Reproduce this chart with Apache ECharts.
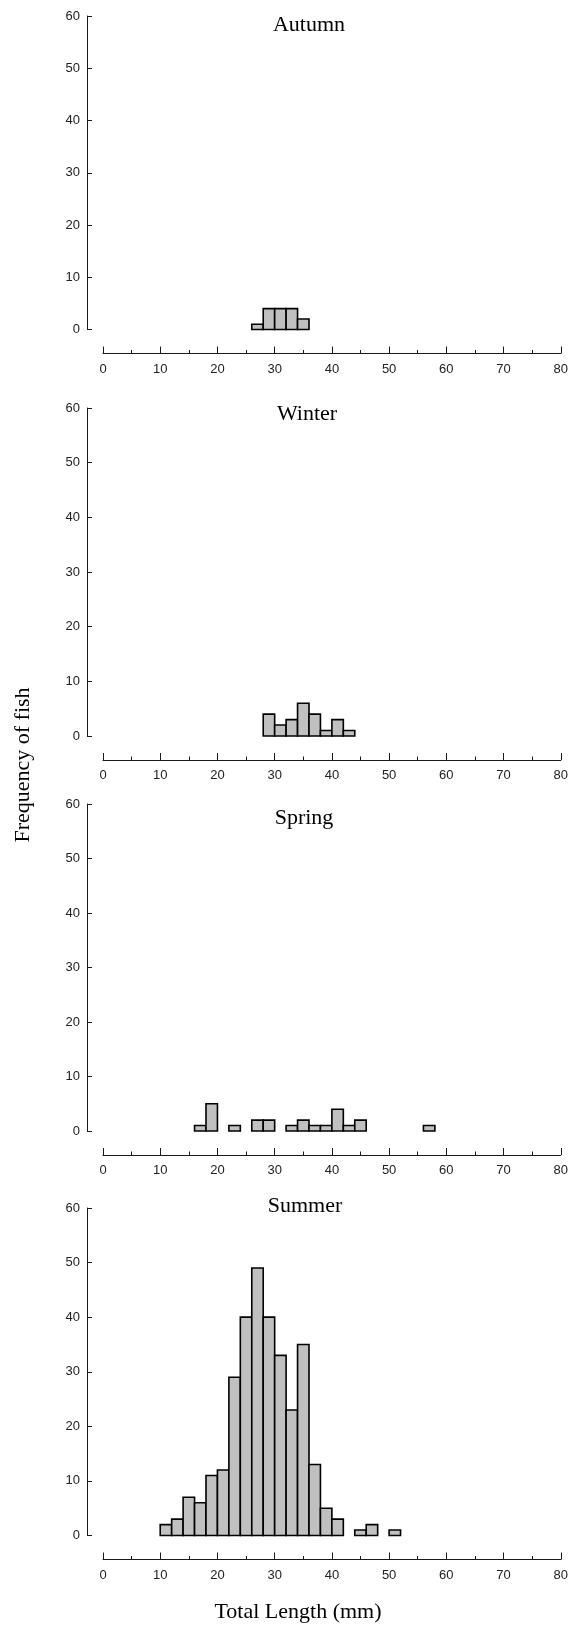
<!DOCTYPE html>
<html>
<head>
<meta charset="utf-8">
<script src="https://cdn.jsdelivr.net/npm/echarts@6/dist/echarts.min.js"></script>
<style>
  html, body { margin: 0; padding: 0; background: #fff; }
  #chart { width: 571px; height: 1630px; }
</style>
</head>
<body>
<div id="chart"></div>
<script>
// ---- Data (bin width 2 mm; bin start values and fish counts) ----
const binWidth = 2;
const seasonNames = ["Autumn", "Winter", "Spring", "Summer"];

const autumnBins   = [26, 28, 30, 32, 34];
const autumnCounts = [1, 4, 4, 4, 2];

const winterBins   = [28, 30, 32, 34, 36, 38, 40, 42];
const winterCounts = [4, 2, 3, 6, 4, 1, 3, 1];

const springBins   = [16, 18, 22, 26, 28, 32, 34, 36, 38, 40, 42, 44, 56];
const springCounts = [1, 5, 1, 2, 2, 1, 2, 1, 1, 4, 1, 2, 1];

const summerBins   = [10, 12, 14, 16, 18, 20, 22, 24, 26, 28, 30, 32, 34, 36, 38, 40, 44, 46, 50];
const summerCounts = [2, 3, 7, 6, 11, 12, 29, 40, 49, 40, 33, 23, 35, 13, 5, 3, 1, 2, 1];

const xTicks = [0, 10, 20, 30, 40, 50, 60, 70, 80];
const yTicks = [0, 10, 20, 30, 40, 50, 60];

const xAxisTitle = "Total Length (mm)";
const yAxisTitle = "Frequency of fish";

// ---- Layout ----
const panels = [
  { top: 16,   height: 313.5, titleX: 309, titleY: 25 },
  { top: 408,  height: 328,   titleX: 307, titleY: 414 },
  { top: 804,  height: 327,   titleX: 304, titleY: 818 },
  { top: 1208, height: 327.5, titleX: 305, titleY: 1206 }
];
const seasonBins = [autumnBins, winterBins, springBins, summerBins];
const seasonCounts = [autumnCounts, winterCounts, springCounts, summerCounts];

const labelFont = "'Liberation Sans', Arial, sans-serif";
const serifFont = "'Liberation Serif', 'Times New Roman', serif";
const axisColor = '#1a1a1a';

function renderItem(params, api) {
  const x0 = api.value(0);
  const cnt = api.value(1);
  const p0 = api.coord([x0, 0]);
  const p1 = api.coord([x0 + binWidth, cnt]);
  return {
    type: 'rect',
    shape: { x: p0[0], y: p1[1], width: p1[0] - p0[0], height: p0[1] - p1[1] },
    style: { fill: '#c0c0c0', stroke: '#000', lineWidth: 1.6 }
  };
}

const grids = [], xAxes = [], yAxes = [], series = [], graphics = [];
panels.forEach((p, i) => {
  grids.push({ left: 103, width: 458, top: p.top, height: p.height });
  xAxes.push({
    type: 'value', gridIndex: i, min: xTicks[0], max: xTicks[xTicks.length - 1],
    interval: xTicks[1] - xTicks[0], offset: 24,
    axisLine: { show: true, onZero: false, lineStyle: { color: axisColor, width: 1 } },
    axisTick: { show: true, inside: true, length: 7, lineStyle: { color: axisColor } },
    minorTick: { show: true, splitNumber: 2, length: 3.5, lineStyle: { color: axisColor } },
    axisLabel: { margin: 9, fontSize: 13, color: '#222', fontFamily: labelFont },
    splitLine: { show: false }
  });
  yAxes.push({
    type: 'value', gridIndex: i, min: yTicks[0], max: yTicks[yTicks.length - 1],
    interval: yTicks[1] - yTicks[0], offset: 16,
    axisLine: { show: true, onZero: false, lineStyle: { color: axisColor, width: 1 } },
    axisTick: { show: true, inside: true, length: 5, lineStyle: { color: axisColor } },
    axisLabel: { margin: 7, fontSize: 13, color: '#222', fontFamily: labelFont },
    splitLine: { show: false }
  });
  series.push({
    type: 'custom', xAxisIndex: i, yAxisIndex: i,
    renderItem: renderItem,
    encode: { x: 0, y: 1 },
    data: seasonBins[i].map((b, k) => [b, seasonCounts[i][k]]),
    silent: true
  });
  graphics.push({
    type: 'text', x: p.titleX, y: p.titleY,
    style: { text: seasonNames[i], fontSize: 22, fontFamily: serifFont, fill: '#000',
             textAlign: 'center', textVerticalAlign: 'middle' }
  });
});

graphics.push({
  type: 'text', x: 298, y: 1612,
  style: { text: xAxisTitle, fontSize: 22, fontFamily: serifFont, fill: '#000',
           textAlign: 'center', textVerticalAlign: 'middle' }
});
graphics.push({
  type: 'text', x: 23, y: 765, rotation: Math.PI / 2,
  style: { text: yAxisTitle, fontSize: 22, fontFamily: serifFont, fill: '#000',
           textAlign: 'center', textVerticalAlign: 'middle' }
});

const chart = echarts.init(document.getElementById('chart'), null, { renderer: 'canvas' });
chart.setOption({
  animation: false,
  backgroundColor: '#fff',
  grid: grids,
  xAxis: xAxes,
  yAxis: yAxes,
  series: series,
  graphic: graphics
});
</script>
</body>
</html>
